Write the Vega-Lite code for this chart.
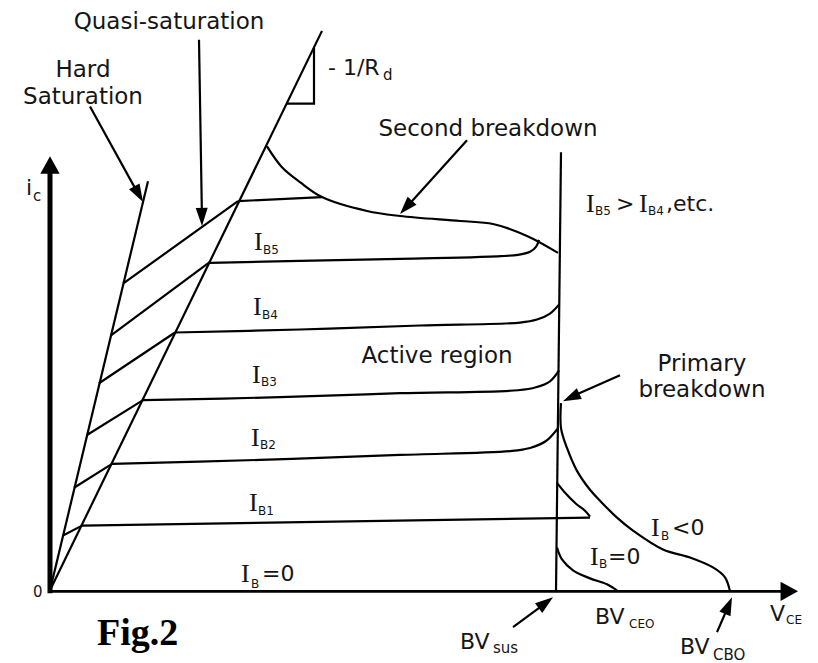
{
"$schema": "https://vega.github.io/schema/vega-lite/v6.json",
"width": 818, "height": 663, "padding": 0,
"autosize": {"type": "fit", "contains": "padding"},
"background": "white",
"config": {"view": {"stroke": null}},
"datasets": {
"segs": [
{"g":"thin","id":"hard","ord":0,"x":50,"y":593},{"g":"thin","id":"hard","ord":1,"x":148,"y":182},
{"g":"thin","id":"quasi","ord":0,"x":50,"y":593},{"g":"thin","id":"quasi","ord":1,"x":322,"y":31},
{"g":"thin","id":"tri","ord":0,"x":287,"y":104},{"g":"thin","id":"tri","ord":1,"x":314,"y":104},{"g":"thin","id":"tri","ord":2,"x":314,"y":48},
{"g":"thin","id":"vline","ord":0,"x":561,"y":153},{"g":"thin","id":"vline","ord":1,"x":556,"y":594},
{"g":"xax","id":"xaxis","ord":0,"x":50,"y":594},{"g":"xax","id":"xaxis","ord":1,"x":786,"y":594},
{"g":"thin","id":"h1","ord":0,"x":63,"y":538},{"g":"thin","id":"h1","ord":1,"x":82,"y":528},
{"g":"thin","id":"h2","ord":0,"x":74,"y":490},{"g":"thin","id":"h2","ord":1,"x":112,"y":466},
{"g":"thin","id":"h3","ord":0,"x":87,"y":437},{"g":"thin","id":"h3","ord":1,"x":143,"y":402},
{"g":"thin","id":"h4","ord":0,"x":99,"y":385},{"g":"thin","id":"h4","ord":1,"x":175,"y":334},
{"g":"thin","id":"h5","ord":0,"x":111,"y":337},{"g":"thin","id":"h5","ord":1,"x":210,"y":263},
{"g":"thin","id":"h6","ord":0,"x":123,"y":285},{"g":"thin","id":"h6","ord":1,"x":238,"y":202},
{"g":"thin","id":"top","ord":0,"x":238,"y":202},{"g":"thin","id":"top","ord":1,"x":322,"y":198},
{"g":"thin","id":"ib1","ord":0,"x":82,"y":528},{"g":"thin","id":"ib1","ord":1,"x":590,"y":520},
{"g":"thin","id":"a1","ord":0,"x":90,"y":107},{"g":"thin","id":"a1","ord":1,"x":140,"y":198},
{"g":"thin","id":"a2","ord":0,"x":199,"y":40},{"g":"thin","id":"a2","ord":1,"x":202,"y":221},
{"g":"thin","id":"a3","ord":0,"x":467,"y":141},{"g":"thin","id":"a3","ord":1,"x":404,"y":211},
{"g":"thin","id":"a4","ord":0,"x":620,"y":377},{"g":"thin","id":"a4","ord":1,"x":568,"y":400},
{"g":"thin","id":"a5","ord":0,"x":513,"y":630},{"g":"thin","id":"a5","ord":1,"x":548,"y":604},
{"g":"thin","id":"a6","ord":0,"x":717,"y":635},{"g":"thin","id":"a6","ord":1,"x":730,"y":605},
{"g":"thick","id":"yaxis","ord":0,"x":50,"y":596},{"g":"thick","id":"yaxis","ord":1,"x":50,"y":172},
{"g":"curve","id":"sb","ord":0,"x":267,"y":147},{"g":"curve","id":"sb","ord":1,"x":282,"y":168},{"g":"curve","id":"sb","ord":2,"x":300,"y":183},{"g":"curve","id":"sb","ord":3,"x":322,"y":198},{"g":"curve","id":"sb","ord":4,"x":367,"y":212},{"g":"curve","id":"sb","ord":5,"x":400,"y":217},{"g":"curve","id":"sb","ord":6,"x":460,"y":222},{"g":"curve","id":"sb","ord":7,"x":493,"y":225},{"g":"curve","id":"sb","ord":8,"x":527,"y":237},{"g":"curve","id":"sb","ord":9,"x":558,"y":254},
{"g":"curve","id":"ib5","ord":0,"x":210,"y":264},{"g":"curve","id":"ib5","ord":1,"x":300,"y":262},{"g":"curve","id":"ib5","ord":2,"x":400,"y":260},{"g":"curve","id":"ib5","ord":3,"x":518,"y":256},{"g":"curve","id":"ib5","ord":4,"x":530,"y":253},{"g":"curve","id":"ib5","ord":5,"x":536,"y":248},{"g":"curve","id":"ib5","ord":6,"x":539,"y":241},
{"g":"curve","id":"ib4","ord":0,"x":175,"y":334},{"g":"curve","id":"ib4","ord":1,"x":300,"y":331},{"g":"curve","id":"ib4","ord":2,"x":420,"y":327},{"g":"curve","id":"ib4","ord":3,"x":520,"y":324},{"g":"curve","id":"ib4","ord":4,"x":537,"y":321},{"g":"curve","id":"ib4","ord":5,"x":550,"y":315},{"g":"curve","id":"ib4","ord":6,"x":559,"y":306},
{"g":"curve","id":"ib3","ord":0,"x":143,"y":402},{"g":"curve","id":"ib3","ord":1,"x":280,"y":399},{"g":"curve","id":"ib3","ord":2,"x":400,"y":395},{"g":"curve","id":"ib3","ord":3,"x":518,"y":392},{"g":"curve","id":"ib3","ord":4,"x":536,"y":389},{"g":"curve","id":"ib3","ord":5,"x":550,"y":383},{"g":"curve","id":"ib3","ord":6,"x":559,"y":372},
{"g":"curve","id":"ib2","ord":0,"x":112,"y":466},{"g":"curve","id":"ib2","ord":1,"x":260,"y":462},{"g":"curve","id":"ib2","ord":2,"x":400,"y":457},{"g":"curve","id":"ib2","ord":3,"x":512,"y":453},{"g":"curve","id":"ib2","ord":4,"x":530,"y":450},{"g":"curve","id":"ib2","ord":5,"x":546,"y":443},{"g":"curve","id":"ib2","ord":6,"x":558,"y":430},
{"g":"curve","id":"spike","ord":0,"x":557,"y":485},{"g":"curve","id":"spike","ord":1,"x":566,"y":496},{"g":"curve","id":"spike","ord":2,"x":576,"y":506},{"g":"curve","id":"spike","ord":3,"x":585,"y":513},{"g":"curve","id":"spike","ord":4,"x":590,"y":519},
{"g":"curve","id":"ibneg","ord":0,"x":561,"y":405},{"g":"curve","id":"ibneg","ord":1,"x":561,"y":430},{"g":"curve","id":"ibneg","ord":2,"x":567,"y":450},{"g":"curve","id":"ibneg","ord":3,"x":577,"y":473},{"g":"curve","id":"ibneg","ord":4,"x":590,"y":492},{"g":"curve","id":"ibneg","ord":5,"x":600,"y":503},{"g":"curve","id":"ibneg","ord":6,"x":617,"y":520},{"g":"curve","id":"ibneg","ord":7,"x":633,"y":533},{"g":"curve","id":"ibneg","ord":8,"x":663,"y":552},{"g":"curve","id":"ibneg","ord":9,"x":690,"y":560},{"g":"curve","id":"ibneg","ord":10,"x":713,"y":570},{"g":"curve","id":"ibneg","ord":11,"x":725,"y":580},{"g":"curve","id":"ibneg","ord":12,"x":730,"y":594},
{"g":"curve","id":"ib0r","ord":0,"x":557,"y":550},{"g":"curve","id":"ib0r","ord":1,"x":562,"y":562},{"g":"curve","id":"ib0r","ord":2,"x":573,"y":573},{"g":"curve","id":"ib0r","ord":3,"x":590,"y":581},{"g":"curve","id":"ib0r","ord":4,"x":607,"y":587},{"g":"curve","id":"ib0r","ord":5,"x":618,"y":594}
],
"arrows": [
{"k":"small","x":143,"y":203,"angle":151},
{"k":"small","x":202,"y":227,"angle":179},
{"k":"small","x":400,"y":215,"angle":222},
{"k":"small","x":563,"y":403,"angle":245},
{"k":"small","x":553,"y":600,"angle":53},
{"k":"small","x":732,"y":600,"angle":23},
{"k":"axis","x":50,"y":157,"angle":0},
{"k":"axis","x":798,"y":594,"angle":90}
],
"labels": [
{"k":"label","x":169,"y":22,"t":"Quasi-saturation"},
{"k":"label","x":83,"y":70,"t":"Hard"},
{"k":"label","x":83,"y":97,"t":"Saturation"},
{"k":"label","x":488,"y":130,"t":"Second breakdown"},
{"k":"label","x":437,"y":358,"t":"Active region"},
{"k":"label","x":702,"y":366,"t":"Primary"},
{"k":"label","x":702,"y":392,"t":"breakdown"},
{"k":"sym","x":328,"y":68,"t":"-  1/R"},
{"k":"sym","x":262,"y":577,"t":"=0"},
{"k":"sym","x":460,"y":645,"t":"BV"},
{"k":"sym","x":595,"y":620,"t":"BV"},
{"k":"sym","x":680,"y":650,"t":"BV"},
{"k":"sym","x":770,"y":617,"t":"V"},
{"k":"sym","x":616,"y":205,"t":">"},
{"k":"sym","x":666,"y":205,"t":",etc."},
{"k":"sym","x":672,"y":530,"t":"<0"},
{"k":"sym","x":608,"y":560,"t":"=0"},
{"k":"sym","x":26,"y":189,"t":"i"},
{"k":"I","x":254,"y":243,"t":"I"},
{"k":"I","x":253,"y":308,"t":"I"},
{"k":"I","x":252,"y":377,"t":"I"},
{"k":"I","x":251,"y":440,"t":"I"},
{"k":"I","x":249,"y":505,"t":"I"},
{"k":"I","x":241,"y":577,"t":"I"},
{"k":"I","x":651,"y":530,"t":"I"},
{"k":"I","x":590,"y":560,"t":"I"},
{"k":"I","x":586,"y":205,"t":"I"},
{"k":"I","x":639,"y":205,"t":"I"},
{"k":"sub","x":263,"y":251,"t":"B5"},
{"k":"sub","x":262,"y":316,"t":"B4"},
{"k":"sub","x":261,"y":384,"t":"B3"},
{"k":"sub","x":260,"y":447,"t":"B2"},
{"k":"sub","x":258,"y":513,"t":"B1"},
{"k":"sub","x":251,"y":587,"t":"B"},
{"k":"sub","x":661,"y":538,"t":"B"},
{"k":"sub","x":599,"y":567,"t":"B"},
{"k":"sub","x":595,"y":212,"t":"B5"},
{"k":"sub","x":648,"y":212,"t":"B4"},
{"k":"sub","x":629,"y":627,"t":"CEO"},
{"k":"sub","x":786,"y":623,"t":"CE"},
{"k":"sub2","x":713,"y":658,"t":"CBO"},
{"k":"sub2","x":493,"y":651,"t":"sus"},
{"k":"sub2","x":33,"y":197,"t":"c"},
{"k":"sub2","x":383,"y":75,"t":"d"},
{"k":"sub2","x":33,"y":595,"t":"0"},
{"k":"fig","x":97,"y":637,"t":"Fig.2"}
]
},
"encoding": {
"x": {"field": "x", "type": "quantitative", "scale": {"domain": [0, 818], "nice": false, "zero": false}, "axis": null},
"y": {"field": "y", "type": "quantitative", "scale": {"domain": [0, 663], "nice": false, "zero": false, "reverse": true}, "axis": null}
},
"layer": [
{"data": {"name": "segs"}, "transform": [{"filter": "datum.g === 'thin'"}],
 "mark": {"type": "line", "color": "black", "strokeWidth": 2.2, "interpolate": "linear"},
 "encoding": {"detail": {"field": "id", "type": "nominal"}, "order": {"field": "ord", "type": "quantitative"}}},
{"data": {"name": "segs"}, "transform": [{"filter": "datum.g === 'xax'"}],
 "mark": {"type": "line", "color": "black", "strokeWidth": 2.7, "interpolate": "linear"},
 "encoding": {"detail": {"field": "id", "type": "nominal"}, "order": {"field": "ord", "type": "quantitative"}}},
{"data": {"name": "segs"}, "transform": [{"filter": "datum.g === 'thick'"}],
 "mark": {"type": "line", "color": "black", "strokeWidth": 5, "interpolate": "linear"},
 "encoding": {"detail": {"field": "id", "type": "nominal"}, "order": {"field": "ord", "type": "quantitative"}}},
{"data": {"name": "segs"}, "transform": [{"filter": "datum.g === 'curve'"}],
 "mark": {"type": "line", "color": "black", "strokeWidth": 2.2, "interpolate": "catmull-rom"},
 "encoding": {"detail": {"field": "id", "type": "nominal"}, "order": {"field": "ord", "type": "quantitative"}}},
{"data": {"name": "arrows"}, "transform": [{"filter": "datum.k === 'small'"}],
 "mark": {"type": "point", "shape": "M0,0L-0.4,1.2L0.4,1.2Z", "filled": true, "color": "black", "opacity": 1, "size": 900, "strokeWidth": 0},
 "encoding": {"angle": {"field": "angle", "type": "quantitative", "scale": null}}},
{"data": {"name": "arrows"}, "transform": [{"filter": "datum.k === 'axis'"}],
 "mark": {"type": "point", "shape": "M0,0L-0.5,0.9L0.5,0.9Z", "filled": true, "color": "black", "opacity": 1, "size": 1500, "strokeWidth": 0},
 "encoding": {"angle": {"field": "angle", "type": "quantitative", "scale": null}}},
{"data": {"name": "labels"}, "transform": [{"filter": "datum.k === 'label'"}],
 "mark": {"type": "text", "font": "DejaVu Sans", "fontSize": 23, "align": "center", "baseline": "middle", "color": "#151515"},
 "encoding": {"text": {"field": "t"}}},
{"data": {"name": "labels"}, "transform": [{"filter": "datum.k === 'sym'"}],
 "mark": {"type": "text", "font": "DejaVu Sans", "fontSize": 22, "align": "left", "baseline": "middle", "color": "#151515"},
 "encoding": {"text": {"field": "t"}}},
{"data": {"name": "labels"}, "transform": [{"filter": "datum.k === 'I'"}],
 "mark": {"type": "text", "font": "Liberation Serif", "fontSize": 26, "align": "left", "baseline": "middle", "color": "#151515"},
 "encoding": {"text": {"field": "t"}}},
{"data": {"name": "labels"}, "transform": [{"filter": "datum.k === 'sub'"}],
 "mark": {"type": "text", "font": "DejaVu Sans", "fontSize": 12, "align": "left", "baseline": "middle", "color": "#151515"},
 "encoding": {"text": {"field": "t"}}},
{"data": {"name": "labels"}, "transform": [{"filter": "datum.k === 'sub2'"}],
 "mark": {"type": "text", "font": "DejaVu Sans", "fontSize": 15, "align": "left", "baseline": "middle", "color": "#151515"},
 "encoding": {"text": {"field": "t"}}},
{"data": {"name": "labels"}, "transform": [{"filter": "datum.k === 'fig'"}],
 "mark": {"type": "text", "font": "Liberation Serif", "fontSize": 38, "fontWeight": "bold", "align": "left", "baseline": "middle", "color": "black"},
 "encoding": {"text": {"field": "t"}}}
]
}
